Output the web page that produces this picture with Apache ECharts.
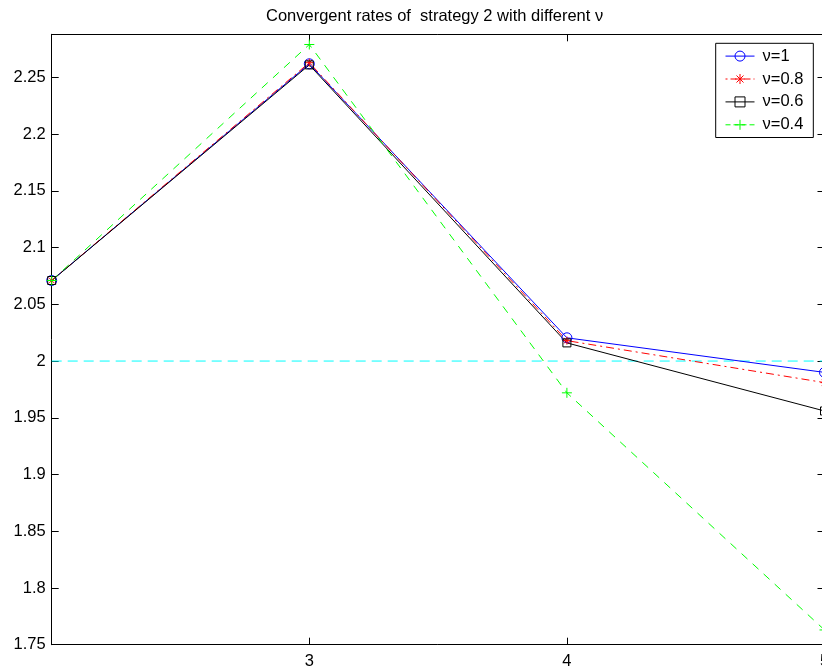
<!DOCTYPE html>
<html>
<head>
<meta charset="utf-8">
<script src="https://cdn.jsdelivr.net/npm/echarts@6/dist/echarts.min.js"></script>
<style>
  html, body { margin: 0; padding: 0; background: #fff; }
  #chart { width: 822px; height: 671px; }
</style>
</head>
<body>
<div id="chart"></div>
<script>
// Iteration steps on the horizontal axis
const steps = [2, 3, 4, 5];
// Convergence rate of strategy 2 for each value of nu
const rateNu1 = [2.071, 2.262, 2.0205, 1.990];
const rateNu08 = [2.071, 2.263, 2.018, 1.981];
const rateNu06 = [2.071, 2.261, 2.016, 1.956];
const rateNu04 = [2.071, 2.279, 1.972, 1.763];
// Reference rate (horizontal dashed line)
const referenceRate = [2, 2, 2, 2];
// Legend names
const seriesNames = ['ν=1', 'ν=0.8', 'ν=0.6', 'ν=0.4'];

const FONT = '"Liberation Sans", Arial, Helvetica, sans-serif';

function pairs(ys) {
  return steps.map((x, i) => [x, ys[i]]);
}

const hollow = (c) => ({ color: 'none', borderColor: c, borderWidth: 1 });
const asterisk = 'path://M5,0L5,10M0,5L10,5M1.5,1.5L8.5,8.5M8.5,1.5L1.5,8.5';
const plus = 'path://M5,0L5,10M0,5L10,5';

const colors = ['#0000ff', '#ff0000', '#000000', '#00ff00'];
const lineStyles = [
  { color: colors[0], width: 1, type: 'solid' },
  { color: colors[1], width: 1, type: [8, 4, 2, 4] },
  { color: colors[2], width: 1, type: 'solid' },
  { color: colors[3], width: 1, type: [8, 7] }
];
// Shorter dash patterns so the styles read inside the small legend sample
const legendDash = ['solid', [2, 3, 6, 3], 'solid', [5, 3]];

const chart = echarts.init(document.getElementById('chart'), null, { renderer: 'canvas' });

const axisLine = { show: true, lineStyle: { color: '#000', width: 1 } };
const inTick = { show: true, inside: true, length: 7, lineStyle: { color: '#000', width: 1 } };
const labelStyle = { color: '#000', fontSize: 16.5, fontFamily: FONT };

chart.setOption({
  backgroundColor: '#fff',
  animation: false,
  textStyle: { fontFamily: FONT },
  title: {
    text: 'Convergent rates of  strategy 2 with different ν',
    left: 261,
    top: 3,
    textStyle: { fontSize: 16.5, fontWeight: 'normal', color: '#000', fontFamily: FONT }
  },
  grid: {
    left: 51.7, top: 34.3, width: 772.8, height: 610.4,
    containLabel: false, outerBoundsMode: 'none'
  },
  legend: {
    data: seriesNames.map((n, i) => ({
      name: n,
      itemStyle: hollow(colors[i]),
      lineStyle: { color: colors[i], width: 1, type: legendDash[i] }
    })),
    orient: 'vertical',
    left: 715.7,
    top: 43.3,
    padding: [4.3, 10, 4.2, 9.3],
    itemWidth: 29,
    itemHeight: 12.5,
    itemGap: 5.9,
    backgroundColor: '#fff',
    borderColor: '#000',
    borderWidth: 1,
    borderRadius: 0,
    textStyle: { fontSize: 16.5, color: '#000', fontFamily: FONT, padding: [0, 0, 0, 3] }
  },
  xAxis: [
    {
      type: 'value', min: 2, max: 5, interval: 1, position: 'bottom',
      axisLine: axisLine, axisTick: inTick, splitLine: { show: false },
      axisLabel: Object.assign({ showMinLabel: false, margin: 8 }, labelStyle)
    },
    {
      type: 'value', min: 2, max: 5, interval: 1, position: 'top',
      axisLine: axisLine, axisTick: inTick, splitLine: { show: false },
      axisLabel: { show: false }
    }
  ],
  yAxis: [
    {
      type: 'value', min: 1.75, max: 2.288, interval: 0.05, position: 'left',
      axisLine: axisLine, axisTick: inTick, splitLine: { show: false },
      axisLabel: Object.assign({ showMaxLabel: false, margin: 6 }, labelStyle)
    },
    {
      type: 'value', min: 1.75, max: 2.288, interval: 0.05, position: 'right',
      axisLine: axisLine, axisTick: inTick, splitLine: { show: false },
      axisLabel: { show: false }
    }
  ],
  series: [
    {
      name: 'reference', type: 'line', data: pairs(referenceRate),
      symbol: 'none', lineStyle: { color: '#00ffff', width: 1, type: [10, 6] },
      silent: true
    },
    {
      name: seriesNames[0], type: 'line', data: pairs(rateNu1),
      symbol: 'circle', symbolSize: 10,
      itemStyle: hollow(colors[0]),
      lineStyle: lineStyles[0]
    },
    {
      name: seriesNames[1], type: 'line', data: pairs(rateNu08),
      symbol: asterisk, symbolSize: 8,
      itemStyle: hollow(colors[1]),
      lineStyle: lineStyles[1]
    },
    {
      name: seriesNames[2], type: 'line', data: pairs(rateNu06),
      symbol: 'rect', symbolSize: 8,
      itemStyle: hollow(colors[2]),
      lineStyle: lineStyles[2]
    },
    {
      name: seriesNames[3], type: 'line', data: pairs(rateNu04),
      symbol: plus, symbolSize: 10,
      itemStyle: hollow(colors[3]),
      lineStyle: lineStyles[3]
    }
  ]
});
</script>
</body>
</html>
